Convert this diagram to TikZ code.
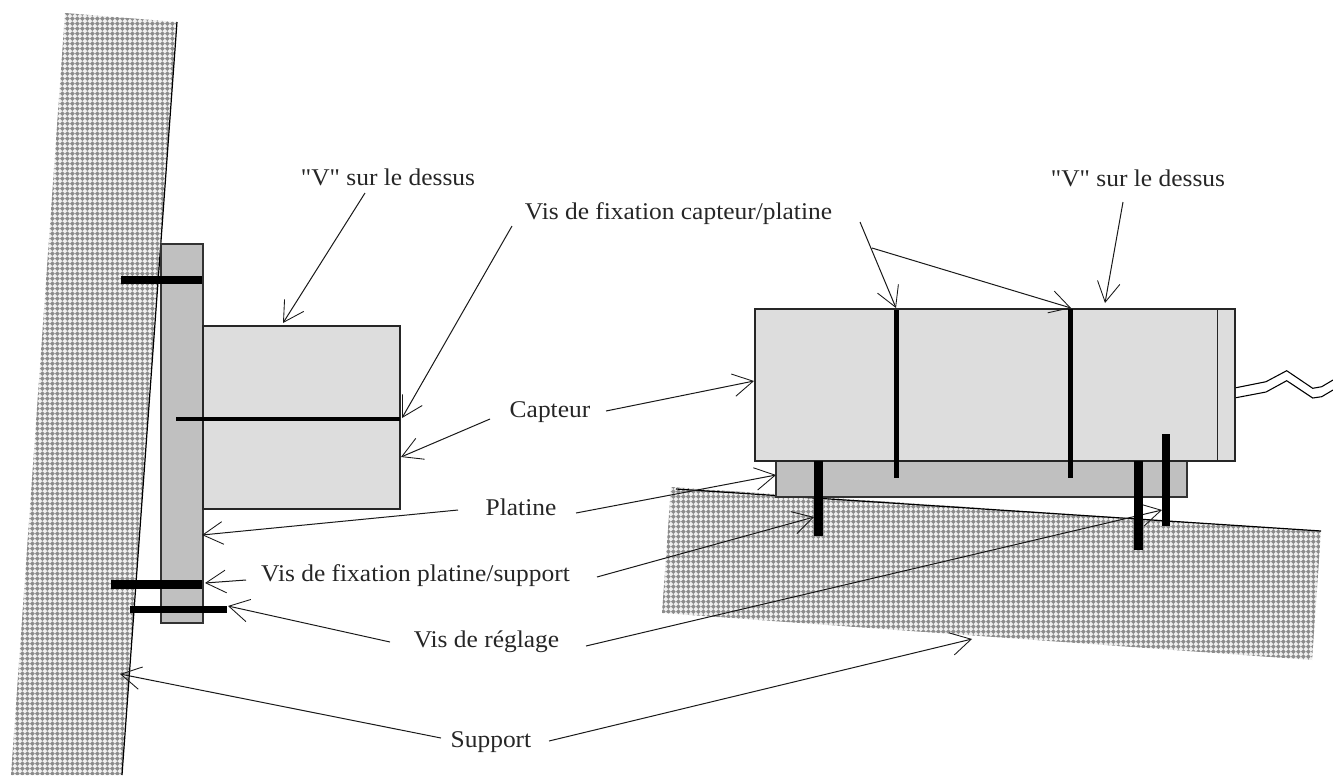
\documentclass[tikz,border=0pt]{standalone}
\usepackage{fontspec}
\newfontfamily\labfont[FakeStretch=1.06]{Liberation Serif}
\usetikzlibrary{arrows.meta,patterns}
\pgfdeclarepatternformonly{chk}{\pgfqpoint{0pt}{0pt}}{\pgfqpoint{4pt}{4pt}}{\pgfqpoint{4pt}{4pt}}{%
  \pgfpathmoveto{\pgfqpoint{2pt}{0pt}}%
  \pgfpathlineto{\pgfqpoint{4pt}{2pt}}%
  \pgfpathlineto{\pgfqpoint{2pt}{4pt}}%
  \pgfpathlineto{\pgfqpoint{0pt}{2pt}}%
  \pgfpathclose
  \pgfusepath{fill}}
\definecolor{supportbase}{HTML}{F0F0F0}
\definecolor{supportdots}{HTML}{8C8C8C}
\definecolor{sensorgrey}{HTML}{DDDDDD}
\definecolor{plategrey}{HTML}{C0C0C0}
\tikzset{
  supportzone/.style={fill=supportbase,postaction={pattern=chk,pattern color=supportdots}},
  sensorbody/.style={draw=black!85,line width=.9pt,fill=sensorgrey},
  platebody/.style={draw=black!80,line width=.9pt,fill=plategrey},
  screwbar/.style={fill=black},
  outline/.style={draw=black,line width=.9pt},
  callout/.style={draw=black!90,line width=.75pt,-{Straight Barb[length=15pt,width=17pt,line width=.65pt]}},
  lab/.style={inner sep=0pt,anchor=base,font=\labfont\fontsize{18pt}{20pt}\selectfont,text=black!85}
}
\begin{document}
\begin{tikzpicture}[x=.75pt,y=-.75pt]
\useasboundingbox (0,0) rectangle (1333,775);
% supports
\path[supportzone] (65,13) -- (177,22) -- (122,775) -- (11,775) -- cycle;
\draw[outline] (177,22) -- (122,775);
\path[supportzone] (671,487) -- (1321,531) -- (1312,660) -- (662,613) -- cycle;
\draw[outline] (676,489) -- (1321,531);
% left assembly
\path[platebody] (161,244) rectangle (203,623);
\path[sensorbody] (203,326) rectangle (400,509);
% right assembly
\path[platebody] (776,461) rectangle (1187,497);
\path[sensorbody] (755,309) rectangle (1235,461);
\draw[draw=black!85,line width=.9pt] (1217.7,309) -- (1217.7,461);
% cable
\draw[line width=.8pt] (1236,387.7) -- (1266,381.7) -- (1286.7,370.7) -- (1312.7,388.3) -- (1321.7,386.7) -- (1333,380);
\draw[line width=.8pt] (1236,397.7) -- (1266,392) -- (1286.7,380.7) -- (1312.7,398) -- (1321.7,396.7) -- (1333,390);
% labels
\node[lab] (vl) at (388,185) {"V" sur le dessus};
\node[lab] (vr) at (1138,186) {"V" sur le dessus};
\node[lab] (fix) at (678.5,219) {Vis de fixation capteur/platine};
\node[lab] (cap) at (550,417) {Capteur};
\node[lab] (pla) at (521,515) {Platine};
\node[lab] (vps) at (415.5,581) {Vis de fixation platine/support};
\node[lab] (reg) at (486.5,647) {Vis de réglage};
\node[lab] (sup) at (491,747) {Support};
% connector ends
\coordinate (a1s) at (365,193);   \coordinate (a1t) at (283,323);
\coordinate (a2s) at (512,226);   \coordinate (a2t) at (402,418);
\coordinate (a3s) at (490,419);   \coordinate (a3t) at (401,457);
\coordinate (a4s) at (606,411);   \coordinate (a4t) at (754,381);
\coordinate (a5s) at (458,510);   \coordinate (a5t) at (202,535);
\coordinate (a6s) at (576,513);   \coordinate (a6t) at (776,475);
\coordinate (a7s) at (246,580);   \coordinate (a7t) at (205,583);
\coordinate (a8s) at (597,577);   \coordinate (a8t) at (814,517);
\coordinate (a9s) at (390,642);   \coordinate (a9t) at (228,606);
\coordinate (a10s) at (586,646);  \coordinate (a10t) at (1162,510);
\coordinate (a11s) at (441,738);  \coordinate (a11t) at (120,674);
\coordinate (a12s) at (549,741);  \coordinate (a12t) at (972,639);
\coordinate (a13s) at (860,222);  \coordinate (a13t) at (896,308);
\coordinate (a14s) at (872,248);  \coordinate (a14t) at (1071,308);
\coordinate (a15s) at (1123,202); \coordinate (a15t) at (1105,303);
\foreach \k in {1,...,15} {\draw[callout] (a\k s) -- (a\k t);}
% screws
\fill[screwbar] (121,276) rectangle (202,284);
\fill[screwbar] (176,416.5) rectangle (400,421);
\fill[screwbar] (111,580) rectangle (202,588.5);
\fill[screwbar] (130,606) rectangle (227,612.7);
\fill[screwbar] (894,310) rectangle (899,478);
\fill[screwbar] (1068,309) rectangle (1073,478);
\fill[screwbar] (814,461) rectangle (823,536);
\fill[screwbar] (1134,461) rectangle (1143,550);
\fill[screwbar] (1162,434) rectangle (1170,526);
\end{tikzpicture}
\end{document}
